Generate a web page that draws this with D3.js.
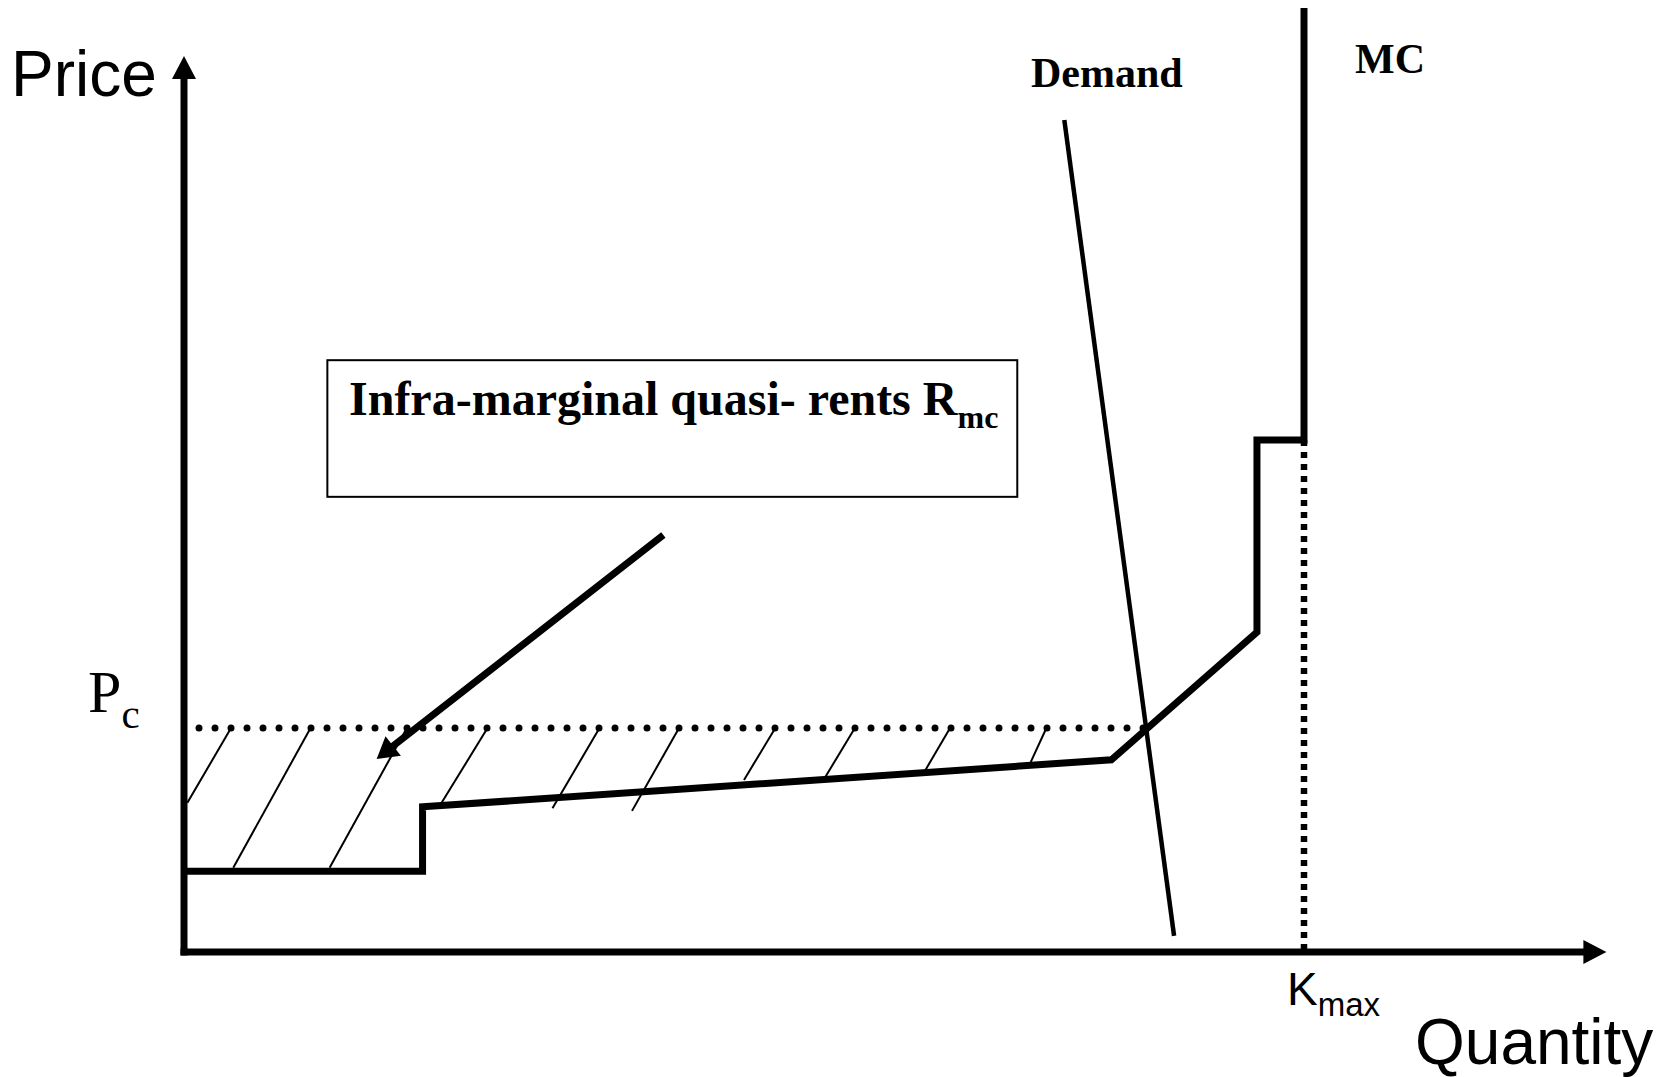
<!DOCTYPE html>
<html>
<head>
<meta charset="utf-8">
<script src="https://cdn.jsdelivr.net/npm/d3@7"></script>
<style>
  html, body { margin: 0; padding: 0; background: #fff; }
  svg { display: block; }
</style>
</head>
<body>
<svg id="chart" width="1664" height="1077"></svg>
<script>
// ---------- data (quantity / price units) ----------
const axisLabels = { y: "Price", x: "Quantity" };
const xDomain = [0, 127];
const yDomain = [0, 200];

// Marginal cost (supply) step curve
const mcQ = [0, 21.3, 21.3, 82.8, 95.8, 95.8, 100, 100];
const mcP = [18, 18, 32.4, 42.9, 71.4, 114.3, 114.3, 210.7];

// Demand line
const demandQ = [78.6, 88.4];
const demandP = [185.7, 3.6];

// Competitive price and capacity
const pcPrice = 50;
const pcStartQ = 1.34;
const kmaxQ = 100;

// Hatching of the quasi-rent area (top on Pc line, bottom on / near MC)
const hatchTopQ    = [4.2, 11.3, 19.9, 27.1, 37.1, 44.2, 52.8, 59.9, 68.4, 77.0];
const hatchBottomQ = [0.3, 4.4, 13.0, 23.0, 32.9, 40.0, 50.0, 57.1, 66.1, 75.6];
const hatchBottomP = [33.3, 18.8, 18.8, 33.3, 32.1, 31.5, 38.4, 38.4, 40.2, 42.4];

// Annotation arrow (from box towards area)
const annotFromQ = 42.8, annotFromP = 93.1;
const annotToQ = 17.2, annotToP = 43.1;

// Annotation box corners
const boxQ = [12.8, 74.4];
const boxP = [132.1, 101.6];

// Texts
const annotText = "Infra-marginal quasi- rents R";
const annotSub = "mc";
const demandLabel = "Demand";
const mcLabel = "MC";
const pcLabel = ["P", "c"];
const kmaxLabel = ["K", "max"];

// ---------- drawing ----------
const svg = d3.select("#chart");
const x = d3.scaleLinear().domain(xDomain).range([184, 1606.4]);
const y = d3.scaleLinear().domain(yDomain).range([952, 56]);
const line = d3.line().x(d => x(d[0])).y(d => y(d[1]));

// hatch lines
const hatch = hatchTopQ.map((q, i) => [[q, pcPrice], [hatchBottomQ[i], hatchBottomP[i]]]);
svg.append("g").selectAll("path").data(hatch).join("path")
  .attr("d", line).attr("fill", "none").attr("stroke", "#000").attr("stroke-width", 2);

// Pc dotted line: ends where it meets MC
function mcQAt(p) {
  for (let i = 0; i < mcQ.length - 1; i++) {
    const p0 = mcP[i], p1 = mcP[i + 1];
    if (p1 !== p0 && p >= Math.min(p0, p1) && p <= Math.max(p0, p1)) {
      return mcQ[i] + (mcQ[i + 1] - mcQ[i]) * (p - p0) / (p1 - p0);
    }
  }
  return kmaxQ;
}
const pcEndQ = mcQAt(pcPrice);
svg.append("path")
  .attr("d", line([[pcStartQ, pcPrice], [pcEndQ, pcPrice]]))
  .attr("stroke", "#000").attr("stroke-width", 7)
  .attr("stroke-linecap", "round").attr("stroke-dasharray", "0 16").attr("fill", "none");

// Kmax dotted vertical
const kmaxTopP = mcP[mcQ.indexOf(kmaxQ)];
svg.append("path")
  .attr("d", line([[kmaxQ, kmaxTopP], [kmaxQ, 0]]))
  .attr("stroke", "#000").attr("stroke-width", 6.5)
  .attr("stroke-dasharray", "6 6").attr("fill", "none");

// MC curve
svg.append("path")
  .attr("d", line(mcQ.map((q, i) => [q, mcP[i]])))
  .attr("fill", "none").attr("stroke", "#000").attr("stroke-width", 7)
  .attr("stroke-linejoin", "miter");

// Demand
svg.append("path")
  .attr("d", line(demandQ.map((q, i) => [q, demandP[i]])))
  .attr("fill", "none").attr("stroke", "#000").attr("stroke-width", 4.5);

// arrow helper
function arrow(x0, y0, x1, y1, width, headLen, headHalf) {
  const dx = x1 - x0, dy = y1 - y0, len = Math.hypot(dx, dy);
  const ux = dx / len, uy = dy / len, px = -uy, py = ux;
  const bx = x1 - ux * headLen, by = y1 - uy * headLen;
  svg.append("line")
    .attr("x1", x0).attr("y1", y0)
    .attr("x2", x1 - ux * headLen * 0.7).attr("y2", y1 - uy * headLen * 0.7)
    .attr("stroke", "#000").attr("stroke-width", width);
  svg.append("path")
    .attr("d", `M${x1},${y1}L${bx + px * headHalf},${by + py * headHalf}L${bx - px * headHalf},${by - py * headHalf}Z`)
    .attr("fill", "#000");
}

// axes
const head = 23;
svg.append("path")
  .attr("d", `M${x(0)},${y(yDomain[1]) + head * 0.7}L${x(0)},${y(0)}L${x(xDomain[1]) - head * 0.7},${y(0)}`)
  .attr("fill", "none").attr("stroke", "#000").attr("stroke-width", 7)
  .attr("stroke-linejoin", "miter").attr("stroke-linecap", "butt");
svg.append("rect").attr("x", x(0) - 3.5).attr("y", y(0) - 3.5).attr("width", 7).attr("height", 7).attr("fill", "#000");
svg.append("path")
  .attr("d", `M${x(0)},${y(yDomain[1])}L${x(0) + 12},${y(yDomain[1]) + head}L${x(0) - 12},${y(yDomain[1]) + head}Z`)
  .attr("fill", "#000");
svg.append("path")
  .attr("d", `M${x(xDomain[1])},${y(0)}L${x(xDomain[1]) - head},${y(0) - 12}L${x(xDomain[1]) - head},${y(0) + 12}Z`)
  .attr("fill", "#000");

// annotation arrow
arrow(x(annotFromQ), y(annotFromP), x(annotToQ), y(annotToP), 7, 21, 12.5);

// annotation box
svg.append("rect")
  .attr("x", x(boxQ[0])).attr("y", y(boxP[0]))
  .attr("width", x(boxQ[1]) - x(boxQ[0])).attr("height", y(boxP[1]) - y(boxP[0]))
  .attr("fill", "#fff").attr("stroke", "#000").attr("stroke-width", 2);

const serif = "'Liberation Serif', 'Times New Roman', serif";
const sans = "'Liberation Sans', Arial, sans-serif";

const t = svg.append("text")
  .attr("x", 349).attr("y", 415)
  .attr("font-family", serif).attr("font-weight", "bold").attr("font-size", 48);
t.append("tspan").text(annotText);
t.append("tspan").attr("font-size", 32).attr("dy", 13).text(annotSub);

// labels
svg.append("text").attr("x", 1031).attr("y", 87)
  .attr("font-family", serif).attr("font-weight", "bold").attr("font-size", 42)
  .text(demandLabel);
svg.append("text").attr("x", 1355).attr("y", 73)
  .attr("font-family", serif).attr("font-weight", "bold").attr("font-size", 42)
  .text(mcLabel);

const pc = svg.append("text").attr("x", 88).attr("y", 712)
  .attr("font-family", serif).attr("font-size", 60);
pc.append("tspan").text(pcLabel[0]);
pc.append("tspan").attr("font-size", 41).attr("dy", 16).text(pcLabel[1]);

const km = svg.append("text").attr("x", 1287).attr("y", 1005)
  .attr("font-family", sans).attr("font-size", 46);
km.append("tspan").text(kmaxLabel[0]);
km.append("tspan").attr("font-size", 33).attr("dy", 11).text(kmaxLabel[1]);

svg.append("text").attr("x", 11).attr("y", 96)
  .attr("font-family", sans).attr("font-size", 64).text(axisLabels.y);
svg.append("text").attr("x", 1415).attr("y", 1064)
  .attr("font-family", sans).attr("font-size", 64).text(axisLabels.x);
</script>
</body>
</html>
